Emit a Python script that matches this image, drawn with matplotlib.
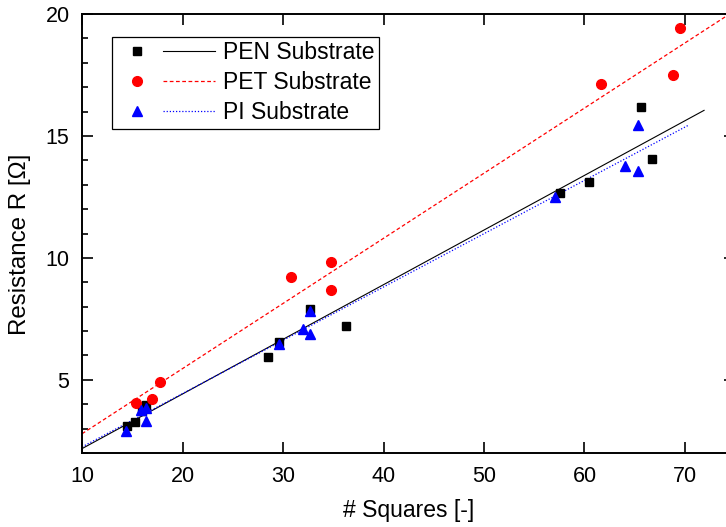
import matplotlib
matplotlib.use("Agg")
import matplotlib.pyplot as plt
from matplotlib.legend_handler import HandlerBase
from matplotlib.lines import Line2D
from matplotlib.ticker import MultipleLocator

plt.rcParams["font.family"] = ["Liberation Sans", "DejaVu Sans"]

pen_x = [14.5, 15.3, 16.0, 16.4, 28.5, 29.6, 32.7, 36.3, 57.6, 60.4, 65.6, 66.7]
pen_y = [3.12, 3.29, 3.73, 3.95, 5.95, 6.54, 7.89, 7.20, 12.67, 13.13, 16.17, 14.06]

pet_x = [15.4, 17.0, 17.8, 30.8, 34.8, 34.8, 61.6, 68.8, 69.5]
pet_y = [4.07, 4.23, 4.90, 9.22, 9.85, 8.70, 17.15, 17.49, 19.41]

pi_x = [14.4, 15.9, 16.4, 16.4, 29.6, 32.0, 32.7, 32.7, 57.1, 64.0, 65.3, 65.3]
pi_y = [2.90, 3.75, 3.32, 3.84, 6.49, 7.09, 7.81, 6.90, 12.51, 13.77, 15.43, 13.58]

# linear fit lines, end points
pen_fit_x = [10, 71.9]
pen_fit_y = [2.18, 16.05]
pet_fit_x = [10, 75]
pet_fit_y = [2.79, 20.15]
pi_fit_x = [10, 70.3]
pi_fit_y = [2.25, 15.43]


class MarkerThenLine(HandlerBase):
    # Origin style legend entry: symbol first, then a short piece of the fit line
    def create_artists(self, legend, orig_handle, xdescent, ydescent, width, height, fontsize, trans):
        pts, line = orig_handle
        y = height / 2 - ydescent
        mark = Line2D([0.21 * width - xdescent], [y])
        mark.update_from(pts)
        mark.set_linestyle("none")
        seg = Line2D([0.47 * width - xdescent, width - xdescent], [y, y])
        seg.update_from(line)
        seg.set_marker("")
        mark.set_transform(trans)
        seg.set_transform(trans)
        return [seg, mark]


fig = plt.figure(figsize=(7.26, 5.27), dpi=100)
ax = fig.add_axes([0.113, 0.1404, 0.8997, 0.833])

pen_pts, = ax.plot(pen_x, pen_y, "s", color="black", markersize=6, linestyle="none", zorder=3)
pet_pts, = ax.plot(pet_x, pet_y, "o", color="red", markersize=7, linestyle="none", zorder=3)
pi_pts, = ax.plot(pi_x, pi_y, "^", color="blue", markersize=7.5, linestyle="none", zorder=4)

pen_line, = ax.plot(pen_fit_x, pen_fit_y, "-", color="black", lw=0.8, zorder=2)
pet_line, = ax.plot(pet_fit_x, pet_fit_y, color="red", lw=0.9, linestyle=(0, (3, 2)), zorder=2)
pi_line, = ax.plot(pi_fit_x, pi_fit_y, color="blue", lw=0.9, linestyle=(0, (1, 1.5)), zorder=2)

ax.set_xlim(10, 75)
ax.set_ylim(2, 20)
ax.xaxis.set_major_locator(MultipleLocator(10))
ax.yaxis.set_major_locator(MultipleLocator(5))
ax.yaxis.set_minor_locator(MultipleLocator(1))

ax.tick_params(which="both", direction="in", top=True, right=True, width=1.2, labelsize=15.5)
ax.tick_params(which="major", length=8, pad=9)
ax.tick_params(which="minor", length=4)
for side in ax.spines.values():
    side.set_linewidth(1.4)

ax.set_xlabel("# Squares [-]", fontsize=16.5, labelpad=9)
ax.set_ylabel("Resistance R [\u03a9]", fontsize=17.4)
ax.yaxis.set_label_coords(-0.078, 0.476)

leg = ax.legend(
    [(pen_pts, pen_line), (pet_pts, pet_line), (pi_pts, pi_line)],
    ["PEN Substrate", "PET Substrate", "PI Substrate"],
    handler_map={tuple: MarkerThenLine()},
    loc="upper left",
    bbox_to_anchor=(0.046, 0.948),
    borderaxespad=0,
    borderpad=0.2,
    fontsize=16.5,
    handlelength=4.28,
    handletextpad=0.35,
    labelspacing=0.3,
    fancybox=False,
    framealpha=1,
    edgecolor="black",
)
leg.get_frame().set_linewidth(0.9)

fig.savefig("out.png", dpi=100)
